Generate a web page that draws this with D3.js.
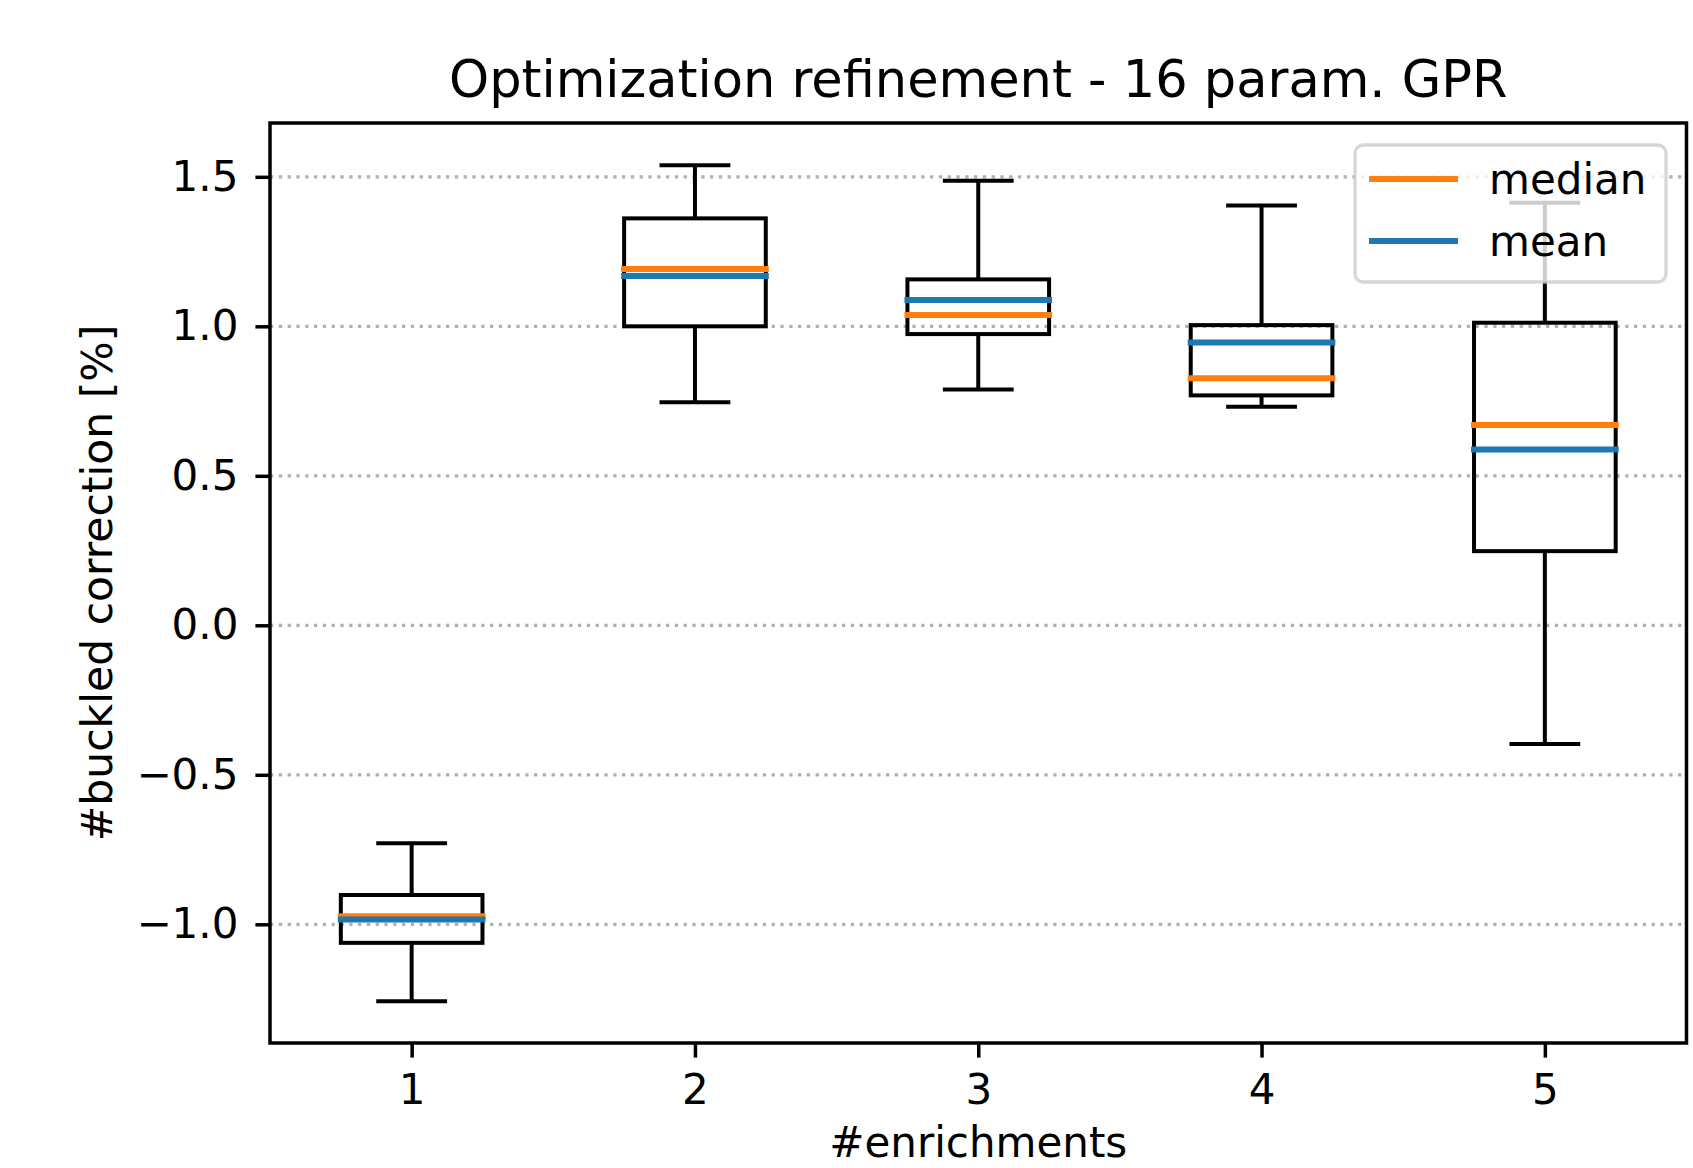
<!DOCTYPE html>
<html>
<head>
<meta charset="utf-8">
<script src="https://cdn.jsdelivr.net/npm/d3@7"></script>
<style>
  body { margin: 0; background: #fff; }
  text { font-family: "DejaVu Sans", sans-serif; fill: #000; }
</style>
</head>
<body>
<div id="chart"></div>
<script>
// data
var categories = [1, 2, 3, 4, 5];
var whiskerLow  = [-1.257, 0.746, 0.789, 0.731, -0.397];
var q1          = [-1.062, 1.000, 0.974, 0.769, 0.248];
var medians     = [-0.973, 1.192, 1.038, 0.826, 0.670];
var means       = [-0.984, 1.168, 1.088, 0.946, 0.588];
var q3          = [-0.902, 1.361, 1.157, 1.004, 1.012];
var whiskerHigh = [-0.729, 1.539, 1.487, 1.404, 1.413];
var yTicks = [-1.0, -0.5, 0.0, 0.5, 1.0, 1.5];

var width = 1693,
	height = 1168,
	margin = {top: 123, right: 6.5, bottom: 125, left: 270};

var innerW = width - margin.left - margin.right,
	innerH = height - margin.top - margin.bottom;

var svg = d3.select("#chart").append("svg")
	.attr("width", width)
	.attr("height", height);

var g = svg.append("g")
	.attr("transform", "translate(" + margin.left + "," + margin.top + ")");

var x = d3.scaleLinear().domain([0.5, 5.5]).range([0, innerW]);
var y = d3.scaleLinear().domain([-1.397, 1.680]).range([innerH, 0]);

var boxes = categories.map(function(c, i) {
	return {c: c, lo: whiskerLow[i], q1: q1[i], med: medians[i], mean: means[i], q3: q3[i], hi: whiskerHigh[i]};
});

// dotted horizontal grid
g.selectAll("line.grid")
	.data(yTicks)
	.enter().append("line")
		.attr("class", "grid")
		.attr("x1", 0).attr("x2", innerW)
		.attr("y1", function(d) {return y(d)})
		.attr("y2", function(d) {return y(d)})
		.attr("stroke", "#b0b0b0")
		.attr("stroke-width", 3.3)
		.attr("stroke-dasharray", "3.3,5.5");

var bw = 0.25, cw = 0.125, lw = 4;

var bx = g.selectAll("g.box")
	.data(boxes)
	.enter().append("g")
		.attr("class", "box");

// whiskers
bx.append("line")
	.attr("x1", function(d) {return x(d.c)}).attr("x2", function(d) {return x(d.c)})
	.attr("y1", function(d) {return y(d.q1)}).attr("y2", function(d) {return y(d.lo)})
	.attr("stroke", "#000").attr("stroke-width", lw);
bx.append("line")
	.attr("x1", function(d) {return x(d.c)}).attr("x2", function(d) {return x(d.c)})
	.attr("y1", function(d) {return y(d.q3)}).attr("y2", function(d) {return y(d.hi)})
	.attr("stroke", "#000").attr("stroke-width", lw);
// caps
bx.append("line")
	.attr("x1", function(d) {return x(d.c - cw)}).attr("x2", function(d) {return x(d.c + cw)})
	.attr("y1", function(d) {return y(d.lo)}).attr("y2", function(d) {return y(d.lo)})
	.attr("stroke", "#000").attr("stroke-width", lw);
bx.append("line")
	.attr("x1", function(d) {return x(d.c - cw)}).attr("x2", function(d) {return x(d.c + cw)})
	.attr("y1", function(d) {return y(d.hi)}).attr("y2", function(d) {return y(d.hi)})
	.attr("stroke", "#000").attr("stroke-width", lw);
// box
bx.append("rect")
	.attr("x", function(d) {return x(d.c - bw)})
	.attr("y", function(d) {return y(d.q3)})
	.attr("width", function(d) {return x(d.c + bw) - x(d.c - bw)})
	.attr("height", function(d) {return y(d.q1) - y(d.q3)})
	.attr("fill", "none").attr("stroke", "#000").attr("stroke-width", lw);
// median then mean
bx.append("line")
	.attr("x1", function(d) {return x(d.c - bw)}).attr("x2", function(d) {return x(d.c + bw)})
	.attr("y1", function(d) {return y(d.med)}).attr("y2", function(d) {return y(d.med)})
	.attr("stroke", "#ff7f0e").attr("stroke-width", 6).attr("stroke-linecap", "square");
bx.append("line")
	.attr("x1", function(d) {return x(d.c - bw)}).attr("x2", function(d) {return x(d.c + bw)})
	.attr("y1", function(d) {return y(d.mean)}).attr("y2", function(d) {return y(d.mean)})
	.attr("stroke", "#1f77b4").attr("stroke-width", 6).attr("stroke-linecap", "square");

// axes
var xAxis = g.append("g")
	.attr("transform", "translate(0," + innerH + ")")
	.call(d3.axisBottom(x).tickValues(categories).tickFormat(d3.format("d")).tickSize(14.6).tickPadding(17));
var yAxis = g.append("g")
	.call(d3.axisLeft(y).tickValues(yTicks).tickFormat(d3.format(".1f")).tickSize(14.6).tickPadding(17));

[xAxis, yAxis].forEach(function(a) {
	a.select(".domain").remove();
	a.selectAll(".tick line").attr("stroke", "#000").attr("stroke-width", 3.5);
	a.selectAll(".tick text").style("font-size", "42px").style("font-family", "DejaVu Sans").attr("fill", "#000");
});

// frame
g.append("rect")
	.attr("x", 0).attr("y", 0)
	.attr("width", innerW).attr("height", innerH)
	.attr("fill", "none").attr("stroke", "#000").attr("stroke-width", 3.5);

// legend
var legendItems = [{label: "median", color: "#ff7f0e"}, {label: "mean", color: "#1f77b4"}];
var lg = svg.append("g").attr("transform", "translate(1355,145)");
lg.append("rect")
	.attr("width", 311).attr("height", 137)
	.attr("rx", 8.3).attr("ry", 8.3)
	.attr("fill", "#fff").attr("fill-opacity", 0.8)
	.attr("stroke", "#cccccc").attr("stroke-opacity", 0.8).attr("stroke-width", 3.33);
var li = lg.selectAll("g.item")
	.data(legendItems)
	.enter().append("g")
		.attr("transform", function(d, i) {return "translate(0," + (34 + i * 62) + ")"});
li.append("line")
	.attr("x1", 17).attr("x2", 100)
	.attr("stroke", function(d) {return d.color})
	.attr("stroke-width", 6).attr("stroke-linecap", "square");
li.append("text")
	.attr("x", 134).attr("y", 15)
	.style("font-size", "42px")
	.text(function(d) {return d.label});

// title and labels
svg.append("text")
	.attr("x", margin.left + innerW / 2).attr("y", 97)
	.attr("text-anchor", "middle")
	.style("font-size", "51px")
	.text("Optimization refinement - 16 param. GPR");

svg.append("text")
	.attr("x", margin.left + innerW / 2).attr("y", 1157)
	.attr("text-anchor", "middle")
	.style("font-size", "42px")
	.text("#enrichments");

svg.append("text")
	.attr("transform", "translate(112," + (margin.top + innerH / 2) + ") rotate(-90)")
	.attr("text-anchor", "middle")
	.style("font-size", "42.5px")
	.text("#buckled correction [%]");
</script>
</body>
</html>
